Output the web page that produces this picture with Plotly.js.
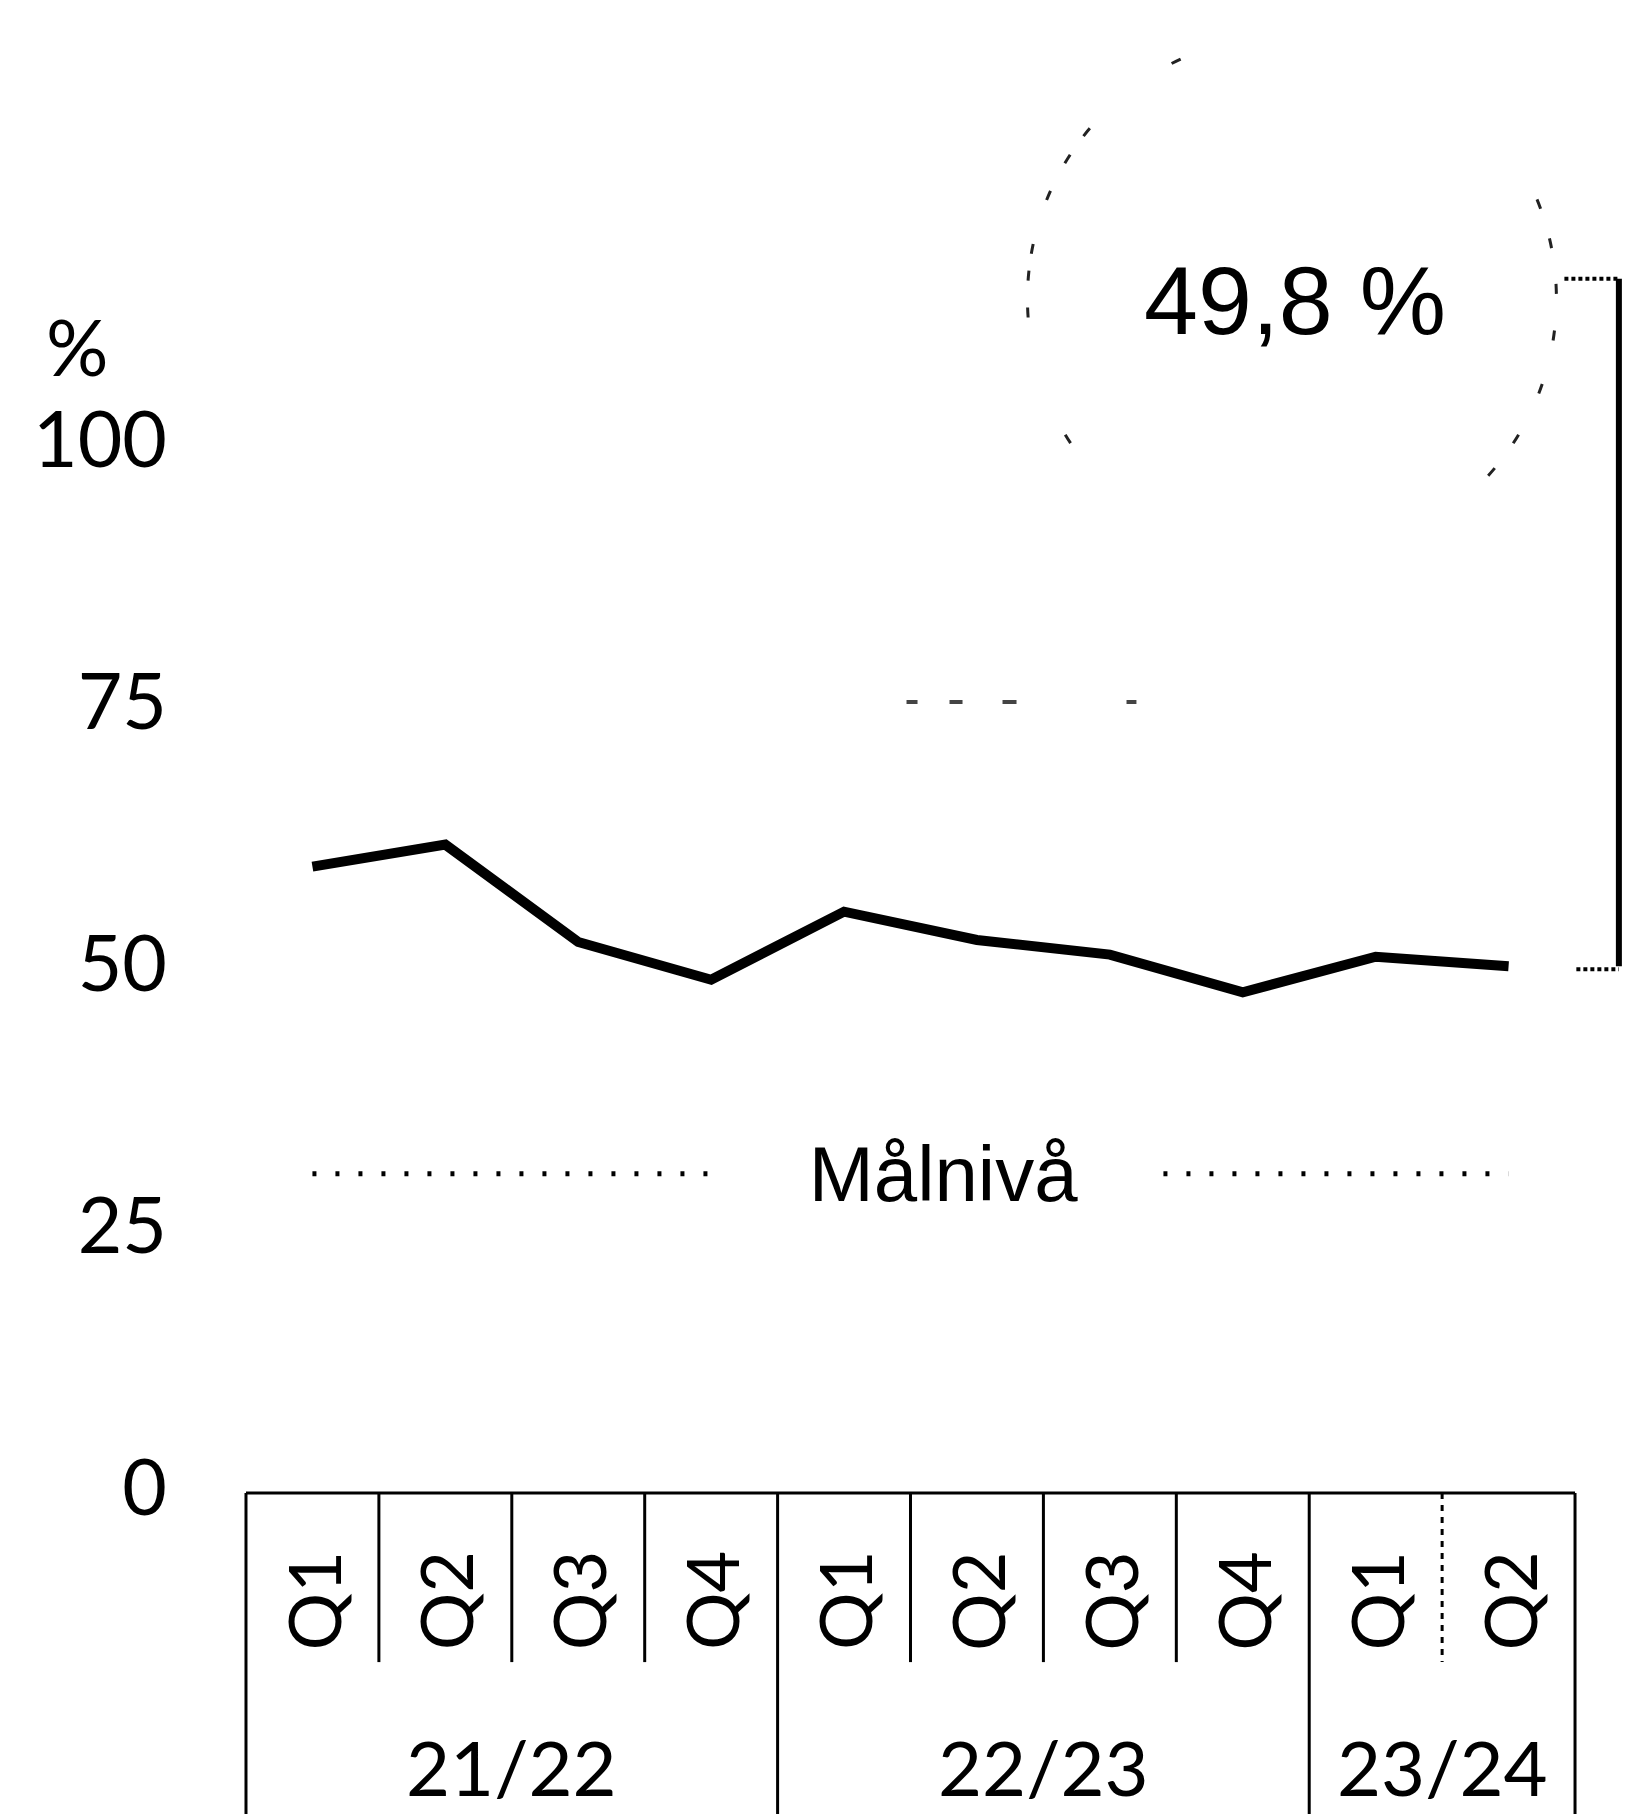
<!DOCTYPE html>
<html>
<head>
<meta charset="utf-8">
<script src="https://cdn.plot.ly/plotly-3.0.1.min.js"></script>
<style>html,body{margin:0;padding:0;background:#fff;}#chart{width:1625px;height:1814px;}</style>
</head>
<body>
<div id="chart"></div>
<script>
// ---- data ----
var quarters = ["Q1","Q2","Q3","Q4","Q1","Q2","Q3","Q4","Q1","Q2"];
var years    = ["21/22","21/22","21/22","21/22","22/23","22/23","22/23","22/23","23/24","23/24"];
var values   = [59.3, 61.4, 52.1, 48.5, 55.0, 52.3, 50.9, 47.3, 50.7, 49.8];
var targetLevel = 30;
var targetLabel = "Målnivå";
var latestLabel = "49,8 %";
var yTicks = [0, 25, 50, 75, 100];
var yUnit = "%";

// ---- build ----
var idx = quarters.map(function(_, i){ return i; });
var last = idx.length - 1;
var black = "#000";

var traces = [
  { x: [idx[0], idx[last]], y: [targetLevel, targetLevel], mode: "lines",
    line: {color: black, width: 5, dash: "4px,19px"}, hoverinfo: "skip" },
  { x: idx, y: values, mode: "lines",
    line: {color: black, width: 10}, hoverinfo: "skip" }
];

var shapes = [];
var tTop = -0.0034, tMid = -0.117, tBot = -0.26;
function vline(x, y0, y1, dash){
  shapes.push({type:"line", xref:"x", yref:"paper", x0:x, x1:x, y0:y0, y1:y1,
               line:{color:black, width:3, dash: dash || "solid"}});
}
// table frame
shapes.push({type:"line", xref:"x", yref:"paper", x0:-0.5, x1:last+0.5, y0:tTop, y1:tTop,
             line:{color:black, width:3}});
vline(-0.5, tTop, tBot);
vline(last + 0.5, tTop, tBot);
for (var i = 0; i < last; i++) {
  if (years[i] !== years[i+1]) vline(i + 0.5, tTop, tBot);
  else vline(i + 0.5, tTop, tMid, (i === last - 1) ? "6px,6px" : "solid");
}

// callout circle (fragmentary dashes) and bracket
var circleDash = "0px,32px,10px,45px,10px,46px,10px,31px,10px,483px,10px,124px,10px,27px,10px,17px,10px,46px,10px,31px,10px,23px,10px,105px,10px,428px,10px,31px,10px,36px,10px,100px";
var bx = last + 0.83;
var bTop = 115.4;
shapes.push({type:"circle", xref:"x", yref:"y", x0:5.38, x1:9.36, y0:88.3, y1:138.7,
             line:{color:"#222", width:3, dash:circleDash}});
shapes.push({type:"line", xref:"x", yref:"y", x0:bx, x1:bx, y0:values[last], y1:bTop,
             line:{color:black, width:6}});
shapes.push({type:"line", xref:"x", yref:"y", x0:last+0.42, x1:bx, y0:bTop, y1:bTop,
             line:{color:black, width:4, dash:"4px,3px"}});
shapes.push({type:"line", xref:"x", yref:"y", x0:last+0.51, x1:bx, y0:values[last]-0.3, y1:values[last]-0.3,
             line:{color:black, width:4, dash:"4px,3px"}});
// faint remnant dashes at 75
shapes.push({type:"line", xref:"x", yref:"y", x0:4.47, x1:6.2, y0:75, y1:75,
             line:{color:"#444", width:4, dash:"11px,32px,13px,40px,14px,110px"}});

var annotations = [];
quarters.forEach(function(q, i){
  annotations.push({x:i, xref:"x", y:-0.0759, yref:"paper", text:q, showarrow:false,
    textangle:-90, font:{family:"Lato", size:72, color:black}, xanchor:"center", yanchor:"middle"});
});
var groups = [];
years.forEach(function(y, i){
  if (!groups.length || groups[groups.length-1].name !== y) groups.push({name:y, s:i, e:i});
  else groups[groups.length-1].e = i;
});
groups.forEach(function(g){
  annotations.push({x:(g.s+g.e)/2, xref:"x", y:-0.187, yref:"paper", text:g.name, showarrow:false,
    font:{family:"Lato", size:76, color:black}, xanchor:"center", yanchor:"middle"});
});
annotations.push({x:-0.119, xref:"paper", y:109, yref:"y", text:yUnit, showarrow:false,
  font:{family:"Lato", size:78, color:black}, xanchor:"center", yanchor:"middle"});
annotations.push({x:7.39, xref:"x", y:113.3, yref:"y", text:latestLabel, showarrow:false,
  font:{family:"Liberation Sans", size:97, color:black}, xanchor:"center", yanchor:"middle"});
annotations.push({x:4.75, xref:"x", y:targetLevel, yref:"y", text:targetLabel, showarrow:false,
  bgcolor:"#fff", width:435, height:90, borderpad:0,
  font:{family:"Liberation Sans", size:78, color:black}, xanchor:"center", yanchor:"middle"});

var layout = {
  width:1625, height:1814,
  margin:{l:242, r:0, t:0, b:326, pad:0},
  paper_bgcolor:"#fff", plot_bgcolor:"#fff",
  showlegend:false,
  xaxis:{range:[-0.53, 9.876], showgrid:false, zeroline:false, showline:false,
         showticklabels:false, ticks:"", fixedrange:true},
  yaxis:{range:[0, 142], tickvals:yTicks, ticktext:yTicks.map(String), showgrid:false,
         zeroline:false, showline:false, ticks:"", ticklabelstandoff:74,
         tickfont:{family:"Lato", size:77, color:black}, fixedrange:true},
  shapes:shapes,
  annotations:annotations
};
Plotly.newPlot("chart", traces, layout, {staticPlot:true, displayModeBar:false});
</script>
</body>
</html>
